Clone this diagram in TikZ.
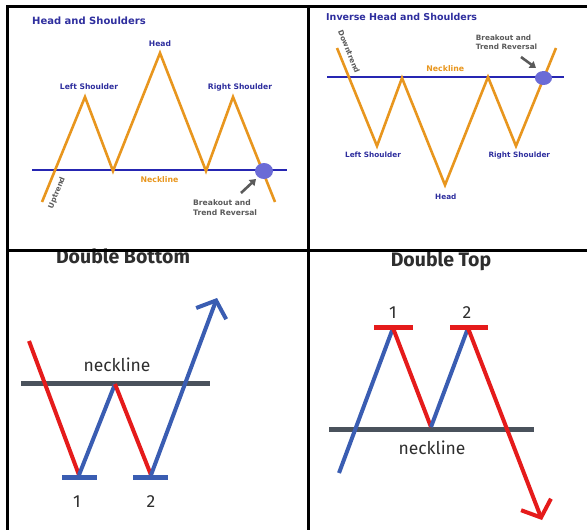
\documentclass[tikz,border=0pt]{standalone}
\usepackage{fontspec}
\newfontfamily\hsfont{DejaVu Sans}
\newfontfamily\dbfont{Fira Sans}
\usetikzlibrary{arrows.meta}
\definecolor{hsnavy}{HTML}{2E2E9E}
\definecolor{hsline}{HTML}{2626B2}
\definecolor{hsorange}{HTML}{E8961E}
\definecolor{hsgray}{HTML}{5A5A5A}
\definecolor{hsdot}{HTML}{6B6BD6}
\definecolor{dbred}{HTML}{E51B1B}
\definecolor{dbblue}{HTML}{3A5DB2}
\definecolor{dbneck}{HTML}{4A525C}
\definecolor{dbtext}{HTML}{2E2E2E}

\begin{document}
\begin{tikzpicture}[x=1pt,y=-1pt,
  hstitle/.style={inner sep=0,text=hsnavy,font=\hsfont\bfseries\fontsize{10}{12}\selectfont},
  hslabel/.style={inner sep=0,text=hsnavy,font=\hsfont\bfseries\fontsize{7.6}{9}\selectfont},
  hsnote/.style={inner sep=0,text=hsgray,font=\hsfont\bfseries\fontsize{7.6}{10}\selectfont},
  hsneck/.style={inner sep=0,text=hsorange,font=\hsfont\bfseries\fontsize{7.8}{9}\selectfont},
  trend/.style={draw=hsorange,line width=2.6pt,line join=miter},
  neck/.style={draw=hsline,line width=2.4pt},
  breakdot/.style={fill=hsdot},
  pointer/.style={draw=hsgray,line width=2.6pt,-{Triangle[length=6pt,width=8pt]}},
  dbtitle/.style={inner sep=0,text=dbtext,font=\dbfont\bfseries\fontsize{19.5}{22}\selectfont},
  dblabel/.style={inner sep=0,text=dbtext,font=\dbfont\fontsize{17.5}{20}\selectfont},
  dbneckline/.style={draw=dbneck,line width=5pt},
  leg/.style={line width=4pt},
  bar/.style={line width=5pt},
  barb/.style={-{Straight Barb[length=14pt,width=32pt]}}]
\useasboundingbox (0,0) rectangle (587,530);
% head and shoulders
\node[hstitle,anchor=base west] (hsTitle) at (32,24) {Head and Shoulders};
\coordinate (hsA) at (32,170); \coordinate (hsB) at (287,170);
\draw[neck] (hsA)--(hsB);
\coordinate (hs0) at (42,202); \coordinate (hs1) at (85,97); \coordinate (hs2) at (113,171);
\coordinate (hs3) at (160,53); \coordinate (hs4) at (206,171); \coordinate (hs5) at (233,97);
\coordinate (hs6) at (275,202);
\draw[trend] (hs0)--(hs1)--(hs2)--(hs3)--(hs4)--(hs5)--(hs6);
\fill[breakdot] (264,171) ellipse (9 and 8);
\node[hslabel,anchor=base] (hsHead) at (160,46.5) {Head};
\node[hslabel,anchor=base] (hsLeft) at (89,89.5) {Left Shoulder};
\node[hslabel,anchor=base] (hsRight) at (240,89.5) {Right Shoulder};
\node[hsneck,anchor=base] (hsNeck) at (159.5,182.5) {Neckline};
\node[hsnote,rotate=68,font=\hsfont\bfseries\fontsize{7.3}{8}\selectfont] (hsUp) at (57,193) {Uptrend};
\node[hsnote,anchor=north west,align=left] (hsBreak) at (193,199.4) {Breakout and\\Trend Reversal};
\coordinate (hsTail) at (241,193); \coordinate (hsTip) at (256,179);
\draw[pointer] (hsTail)--(hsTip);
% inverse head and shoulders
\node[hstitle,anchor=base west,font=\hsfont\bfseries\fontsize{9.5}{11}\selectfont] (ihsTitle) at (326,20) {Inverse Head and Shoulders};
\coordinate (ihsA) at (327,77); \coordinate (ihsB) at (564,77);
\draw[neck,line width=2pt] (ihsA)--(ihsB);
\coordinate (ihs0) at (337,48); \coordinate (ihs1) at (377,146); \coordinate (ihs2) at (402,78);
\coordinate (ihs3) at (445,185); \coordinate (ihs4) at (488,77); \coordinate (ihs5) at (516,146);
\coordinate (ihs6) at (556,48);
\draw[trend] (ihs0)--(ihs1)--(ihs2)--(ihs3)--(ihs4)--(ihs5)--(ihs6);
\fill[breakdot] (543.5,78) ellipse (8.5 and 7);
\node[hsneck,anchor=base] (ihsNeck) at (445.3,71.3) {Neckline};
\node[hslabel,anchor=base,font=\hsfont\bfseries\fontsize{7.3}{9}\selectfont] (ihsLeft) at (373,157.7) {Left Shoulder};
\node[hslabel,anchor=base,font=\hsfont\bfseries\fontsize{7.3}{9}\selectfont] (ihsHead) at (445.8,199.3) {Head};
\node[hslabel,anchor=base,font=\hsfont\bfseries\fontsize{7.3}{9}\selectfont] (ihsRight) at (519.3,157.5) {Right Shoulder};
\node[hsnote,rotate=-68,font=\hsfont\bfseries\fontsize{7.3}{8}\selectfont] (ihsDown) at (349,51.7) {Downtrend};
\node[hsnote,anchor=north west,align=left,font=\hsfont\bfseries\fontsize{7.3}{9.7}\selectfont] (ihsBreak) at (475.7,34.3) {Breakout and\\Trend Reversal};
\coordinate (ihsTail) at (521,57); \coordinate (ihsTip) at (536,68);
\draw[pointer] (ihsTail)--(ihsTip);
% double bottom
\node[dbtitle,anchor=base] (dbTitle) at (123,263) {Double Bottom};
\coordinate (dbA) at (21,383); \coordinate (dbB) at (210,383);
\draw[dbneckline] (dbA)--(dbB);
\node[dblabel] (dbNeck) at (117,364.7) {neckline};
\coordinate (db0) at (29,341); \coordinate (db1) at (79,475); \coordinate (db2) at (115,384);
\coordinate (db3) at (151,475); \coordinate (db4) at (217,298);
\draw[leg,dbred] (db0)--(db1); \draw[leg,dbblue] (db1)--(db2);
\draw[leg,dbred] (db2)--(db3); \draw[leg,dbblue,barb] (db3)--(db4);
\draw[bar,dbblue] (62,477)--(97,477); \draw[bar,dbblue] (133,477)--(168,477);
\node[dblabel] (dbOne) at (77,502) {1};
\node[dblabel] (dbTwo) at (151,502) {2};
% double top
\node[dbtitle,anchor=base] (dtTitle) at (441,266.5) {Double Top};
\coordinate (dtA) at (329,429); \coordinate (dtB) at (534,429);
\draw[dbneckline] (dtA)--(dtB);
\node[dblabel] (dtNeck) at (432,448) {neckline};
\coordinate (dt0) at (339,473); \coordinate (dt1) at (393,328); \coordinate (dt2) at (431,427);
\coordinate (dt3) at (468,328); \coordinate (dt4) at (542,520);
\draw[leg,dbblue] (dt0)--(dt1); \draw[leg,dbred] (dt1)--(dt2);
\draw[leg,dbblue] (dt2)--(dt3); \draw[leg,dbred,barb] (dt3)--(dt4);
\draw[bar,dbred] (374,327)--(413,327); \draw[bar,dbred] (450,327)--(488,327);
\node[dblabel] (dtOne) at (393,313) {1};
\node[dblabel] (dtTwo) at (467,313) {2};
% frame
\draw[line width=3pt] (7.5,5) -- (7.5,530);
\draw[line width=3pt] (6,6.5) -- (587,6.5);
\draw[line width=3pt] (308.5,5) -- (308.5,530);
\draw[line width=3pt] (6,250) -- (587,250);
\end{tikzpicture}
\end{document}
